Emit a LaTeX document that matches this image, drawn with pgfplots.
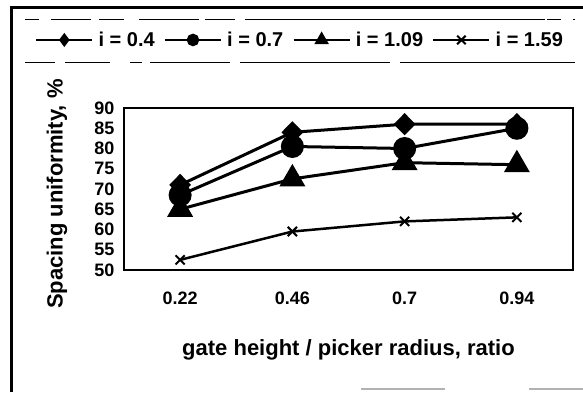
\documentclass[border=0pt]{standalone}
\usepackage{pgfplots}
\pgfplotsset{compat=1.18}
\usepackage{fontspec}
\setmainfont{Liberation Sans}
\begin{document}
\begin{tikzpicture}
\useasboundingbox (0pt,0pt) rectangle (583pt,392pt);
% outer frame
\draw[line width=3pt] (11pt,0pt) -- (11pt,384pt) -- (583pt,384pt);
% legend dashed rules
\draw[line width=0.9pt, dash pattern=on 14pt off 12pt on 40pt off 8pt on 25pt off 15pt on 60pt off 6pt on 30pt off 10pt on 300pt off 2pt] (25pt,373pt) -- (575pt,373pt);
\draw[line width=0.9pt, dash pattern=on 30pt off 10pt on 45pt off 20pt on 12pt off 8pt on 80pt off 10pt on 150pt off 10pt on 200pt off 3pt] (25pt,330pt) -- (575pt,330pt);
\draw[line width=1.5pt, gray!60] (361pt,3pt) -- (445pt,3pt);
\draw[line width=1.5pt, gray!60] (529pt,3pt) -- (583pt,3pt);
\begin{axis}[
  at={(124pt,122pt)}, anchor=south west,
  scale only axis, width=449pt, height=162pt,
  xmin=-0.5, xmax=3.5, ymin=50, ymax=90,
  xtick={0,1,2,3}, xticklabels={0.22,0.46,0.7,0.94},
  ytick={50,55,60,65,70,75,80,85,90},
  major tick length=0pt,
  axis line style={line width=2.5pt},
  font=\fontsize{18}{18}\selectfont\bfseries,
  /pgf/number format/assume math mode=true,
  yticklabel style={xshift=-6pt},
  xticklabel style={yshift=-18pt},
  xlabel={gate height / picker radius, ratio},
  ylabel={Spacing uniformity, \%},
  label style={font=\fontsize{22}{22}\selectfont\bfseries},
  xlabel style={at={(axis description cs:0.5,-0.49)}, anchor=center},
  ylabel style={at={(axis description cs:-0.149,0.469)}, anchor=center},
  legend columns=4,
  legend style={at={(axis description cs:0.392,1.42)}, anchor=center, draw=none, fill=none,
    font=\fontsize{20}{20}\selectfont\bfseries, inner sep=0pt,
    /tikz/every odd column/.append style={column sep=3pt},
    /tikz/every even column/.append style={column sep=7pt}},
  legend image code/.code={\draw[mark repeat=2,mark phase=2] plot coordinates {(0pt,0pt)(28pt,0pt)(56pt,0pt)};},
]
\addlegendimage{black, line width=2.5pt, mark=diamond*, mark size=5pt}
\addlegendentry{i = 0.4}
\addlegendimage{black, line width=2.5pt, mark=*, mark size=5pt}
\addlegendentry{i = 0.7}
\addlegendimage{black, line width=2.5pt, mark=triangle*, mark size=6pt}
\addlegendentry{i = 1.09}
\addlegendimage{black, line width=2.5pt, mark=x, mark size=6pt, mark options={line width=2pt}}
\addlegendentry{i = 1.59}
\addplot[black, line width=3pt, mark=diamond*, mark size=9pt, mark options={xscale=1.3}, forget plot] coordinates {(0,71) (1,84) (2,86) (3,86)};
\addplot[black, line width=3pt, mark=*, mark size=10pt, forget plot] coordinates {(0,68.5) (1,80.5) (2,80) (3,85)};
\addplot[black, line width=3pt, mark=triangle*, mark size=12pt, forget plot] coordinates {(0,65) (1,72.5) (2,76.5) (3,76)};
\addplot[black, line width=2.5pt, mark=x, mark size=6.5pt, mark options={line width=2pt}, forget plot] coordinates {(0,52.5) (1,59.5) (2,62) (3,63)};
\end{axis}
\end{tikzpicture}
\end{document}
